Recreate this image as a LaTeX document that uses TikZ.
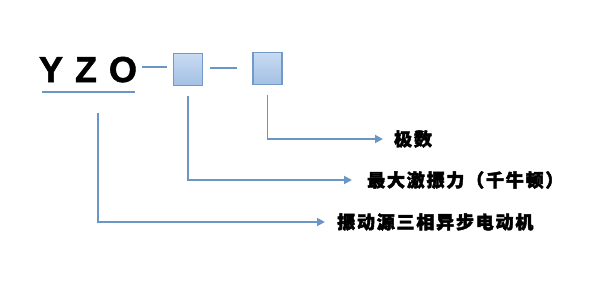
\documentclass[tikz,border=0pt]{standalone}
\usepackage{fontspec}
\setmainfont{Liberation Sans}
\newfontfamily\cjk[FakeBold=2.5, LetterSpace=10]{Noto Sans CJK SC}
\newfontfamily\codefont[FakeBold=1.5]{Liberation Sans Bold}
\usetikzlibrary{arrows.meta}
\definecolor{linecol}{HTML}{6A96C6}
\definecolor{boxedge}{HTML}{7299C8}
\definecolor{boxtop}{HTML}{C8DBF2}
\definecolor{boxbot}{HTML}{A3C0E4}
\tikzset{
  conn/.style={line width=1.8pt, linecol},
  codebox/.style={draw=boxedge, line width=1.6pt, top color=boxtop,
    bottom color=boxbot, minimum width=29pt, minimum height=32pt,
    inner sep=0pt},
  label/.style={anchor=west, inner sep=0pt, font=\cjk\bfseries\fontsize{18}{18}\selectfont}
}

\begin{document}
\begin{tikzpicture}[x=1pt, y=-1pt, >={Triangle[length=8pt, width=8pt]}]

  \useasboundingbox (0,0) rectangle (590,281);

  % Model code.
  \node[inner sep=0pt, anchor=base, font=\codefont\fontsize{36}{36}\selectfont]
    (yzo) at (88,82) {Y\hspace{12pt}Z\hspace{12pt}O};
  \node[codebox] (box1) at (188,69.5) {};
  \node[codebox] (box2) at (267.5,68.5) {};

  % Dashes between parts.
  \draw[conn, shorten <=5pt, shorten >=6pt] (yzo.east |- 0,67) -- (box1.west |- 0,67);
  \draw[conn, shorten <=7pt, shorten >=15pt] (box1.east |- 0,68) -- (box2.west |- 0,68);

  % Underline of the letters.
  \coordinate (ul-a) at (42,92);
  \coordinate (ul-b) at (135,92);
  \draw[conn] (ul-a) -- (ul-b);
  \coordinate (tail) at (98,113);

  % Labels.
  \node[label] (lab1) at (394,139) {极数};
  \node[label] (lab2) at (367,180) {最大激振力（千牛顿）};
  \node[label] (lab3) at (337,222) {振动源三相异步电动机};

  % Leaders.
  \draw[conn, ->, shorten <=10pt, shorten >=11pt] (box2.south) |- (lab1.west);
  \draw[conn, ->, shorten <=10pt, shorten >=15pt] (box1.south) |- (lab2.west);
  \draw[conn, ->, shorten >=12pt] (tail) |- (lab3.west);

\end{tikzpicture}
\end{document}
